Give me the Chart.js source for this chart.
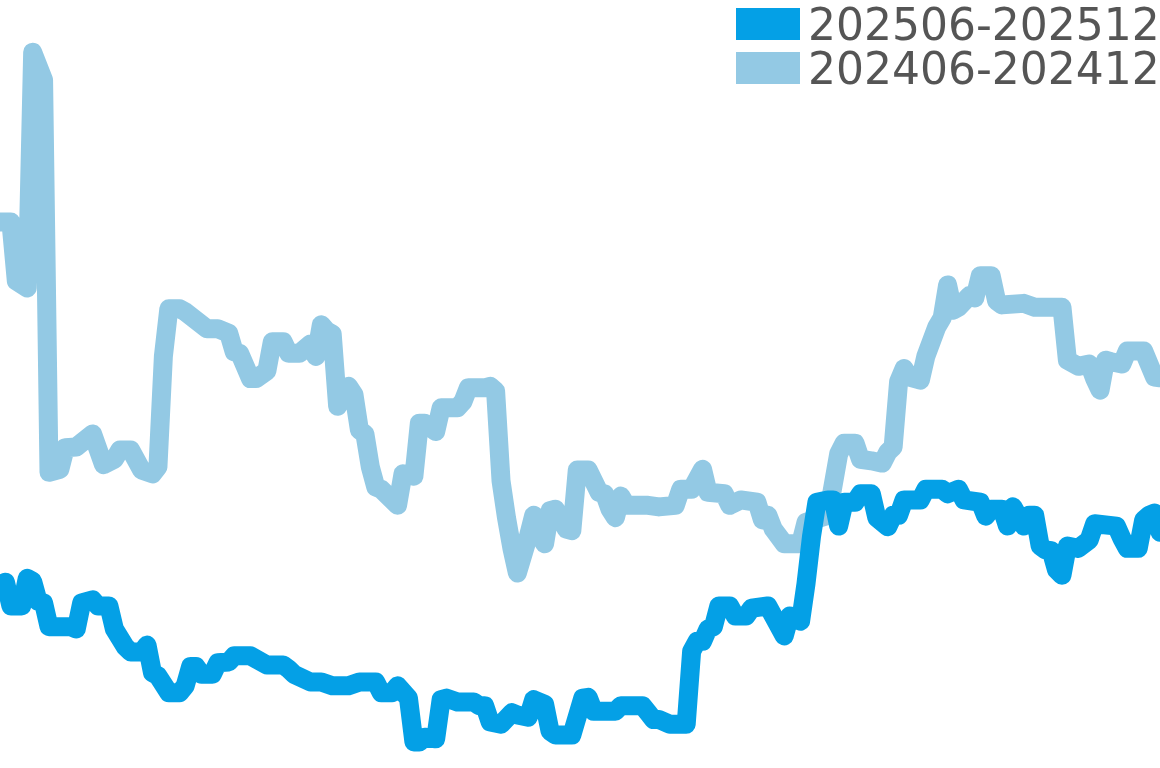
<!DOCTYPE html>
<html>
<head>
<meta charset="utf-8">
<script src="https://cdn.jsdelivr.net/npm/chart.js@4"></script>
<style>
  html, body { margin: 0; padding: 0; background: #fff; }
  #wrap { width: 1160px; height: 768px; position: relative; }
</style>
</head>
<body>
<div id="wrap"><canvas id="trendChart"></canvas></div>
<script>
// day offsets from 1 June (0..213) and index values
var seriesNames = ['202506-202512', '202406-202412'];

var daysNow = [0, 1, 2, 4, 5, 6, 7, 8, 9, 13, 14, 15, 17, 18, 20, 21, 23, 24, 26, 27, 28, 29, 31, 33, 34, 35, 36, 37, 39, 40,
  42, 43, 46, 49, 52, 53, 54, 57, 59, 61, 64, 66, 69, 70, 72, 73, 75, 76, 77, 78, 80, 81, 82, 84, 87, 88, 89, 90, 92, 94,
  95, 97, 98, 99, 100, 101, 102, 105, 107, 108, 109, 113, 114, 118, 119, 120, 121, 123, 126, 127, 128, 129, 130, 131, 132, 134, 135, 137, 138, 141,
  142, 144, 145, 147, 148, 149, 150, 152, 153, 154, 155, 157, 158, 160, 161, 163, 164, 165, 166, 169, 170, 173, 174, 176, 177, 180, 181, 182, 184, 185,
  186, 188, 189, 190, 191, 192, 193, 194, 195, 196, 198, 200, 201, 205, 206, 207, 209, 210, 211, 212, 213];
var valuesNow = [23.4, 24.2, 21.1, 21.1, 24.7, 24.3, 21.7, 21.5, 18.4, 18.4, 18.1, 21.5, 21.9, 21.1, 21.1, 18.1, 15.8, 15.1, 15.1, 16.0, 12.4, 12.0, 9.8, 9.8, 10.7, 13.2, 13.2, 12.2, 12.2, 13.7,
  13.8, 14.6, 14.6, 13.4, 13.4, 12.9, 12.2, 11.2, 11.2, 10.7, 10.7, 11.2, 11.2, 9.8, 9.8, 10.7, 9.1, 3.4, 3.4, 4.0, 3.8, 8.9, 9.1, 8.6, 8.6, 8.1, 8.1, 6.0, 5.7, 7.2,
  6.9, 6.6, 8.9, 8.6, 8.3, 4.8, 4.3, 4.3, 9.1, 9.2, 7.4, 7.4, 8.1, 8.1, 7.2, 6.3, 6.3, 5.7, 5.7, 15.2, 16.5, 16.5, 18.1, 18.4, 21.1, 21.1, 19.8, 19.8, 20.8, 21.1,
  19.8, 17.2, 19.8, 19.1, 24.0, 30.1, 34.6, 34.9, 34.9, 31.5, 34.6, 34.6, 35.7, 35.7, 32.6, 31.4, 32.9, 32.9, 34.9, 34.9, 36.3, 36.3, 35.7, 36.3, 34.9, 34.6, 32.8, 33.7, 33.7, 31.5,
  34.0, 31.5, 32.9, 32.9, 28.9, 28.4, 28.3, 25.8, 25.1, 28.9, 28.6, 29.7, 31.8, 31.5, 29.9, 28.6, 28.6, 32.3, 32.9, 33.2, 30.7];

var daysPrev = [0, 2, 3, 5, 6, 8, 9, 11, 12, 14, 17, 19, 21, 22, 24, 26, 28, 29, 30, 31, 33, 34, 38, 40, 42, 43, 44, 46, 47, 49,
  50, 52, 53, 55, 57, 58, 59, 60, 61, 62, 64, 65, 66, 67, 68, 69, 70, 73, 74, 76, 77, 78, 80, 81, 84, 85, 86, 89, 90, 91,
  92, 93, 94, 95, 97, 98, 99, 100, 101, 102, 104, 105, 106, 108, 110, 111, 112, 113, 114, 115, 119, 121, 124, 125, 127, 129, 130, 133, 134, 136,
  139, 140, 141, 142, 144, 147, 148, 152, 154, 155, 157, 158, 160, 162, 163, 164, 165, 166, 167, 169, 170, 172, 173, 174, 175, 176, 178, 179, 180, 182,
  183, 184, 188, 190, 195, 196, 198, 200, 201, 202, 203, 204, 206, 207, 210, 212, 213];
var valuesPrev = [71.1, 71.1, 63.4, 62.5, 93.2, 89.6, 38.5, 38.9, 41.7, 41.8, 43.5, 39.5, 40.2, 41.4, 41.4, 38.8, 38.3, 39.2, 53.6, 59.8, 59.8, 59.4, 57.2, 57.2, 56.6, 54.2, 54.0, 50.7, 50.7, 51.7,
  55.5, 55.5, 54.0, 54.0, 55.2, 53.6, 57.7, 56.9, 56.5, 47.1, 49.7, 48.6, 44.0, 43.5, 39.2, 36.6, 36.3, 34.2, 38.3, 38.0, 44.9, 44.9, 43.8, 46.9, 46.9, 47.7, 49.5, 49.5, 49.7, 49.1,
  37.4, 32.6, 28.6, 25.4, 30.1, 32.9, 30.6, 29.2, 33.5, 33.7, 31.1, 30.9, 38.8, 38.8, 35.9, 35.7, 33.7, 32.6, 35.4, 34.2, 34.2, 34.0, 34.2, 36.3, 36.3, 38.9, 35.9, 35.7, 34.2, 34.9,
  34.6, 32.3, 32.9, 31.1, 29.2, 29.2, 32.0, 32.9, 40.9, 42.3, 42.3, 40.2, 40.0, 39.7, 41.1, 41.8, 50.3, 52.0, 50.9, 50.5, 53.6, 57.4, 58.6, 62.9, 59.6, 60.0, 61.5, 61.2, 64.1, 64.1,
  60.8, 60.3, 60.5, 60.0, 60.0, 53.1, 52.3, 52.6, 50.7, 49.2, 53.1, 52.9, 52.6, 54.3, 54.3, 50.9, 50.8];

var colorNow = '#04a0e6';
var colorPrev = '#93c9e4';

function toPoints(days, values) {
    return days.map(function (d, i) { return { x: d, y: values[i] }; });
}

// legend drawn in the top right corner, over the plot
var cornerLegend = {
    id: 'cornerLegend',
    afterDraw: function (chart) {
        var c = chart.ctx;
        c.save();
        c.font = '44px "DejaVu Sans", sans-serif';
        c.textBaseline = 'alphabetic';
        c.textAlign = 'left';
        chart.data.datasets.forEach(function (ds, i) {
            var top = 8 + i * 44;
            c.fillStyle = ds.borderColor;
            c.fillRect(736, top, 64, 32);
            c.fillStyle = '#555555';
            c.fillText(ds.label, 808, top + 32);
        });
        c.restore();
    }
};

var ctx = document.getElementById('trendChart');
var myChart = new Chart(ctx, {
    type: 'line',
    data: {
        datasets: [{
            label: seriesNames[0],
            data: toPoints(daysNow, valuesNow),
            borderColor: colorNow,
            backgroundColor: colorNow
        }, {
            label: seriesNames[1],
            data: toPoints(daysPrev, valuesPrev),
            borderColor: colorPrev,
            backgroundColor: colorPrev
        }]
    },
    options: {
        responsive: true,
        maintainAspectRatio: false,
        animation: false,
        layout: { padding: 0 },
        elements: {
            line: { borderWidth: 19, tension: 0, borderJoinStyle: 'round', borderCapStyle: 'round', fill: false },
            point: { radius: 0, hoverRadius: 0 }
        },
        scales: {
            x: { type: 'linear', min: 0, max: 213, display: false },
            y: { min: 0, max: 100, display: false }
        },
        plugins: {
            legend: { display: false },
            tooltip: { enabled: false }
        }
    },
    plugins: [cornerLegend]
});
</script>
</body>
</html>
